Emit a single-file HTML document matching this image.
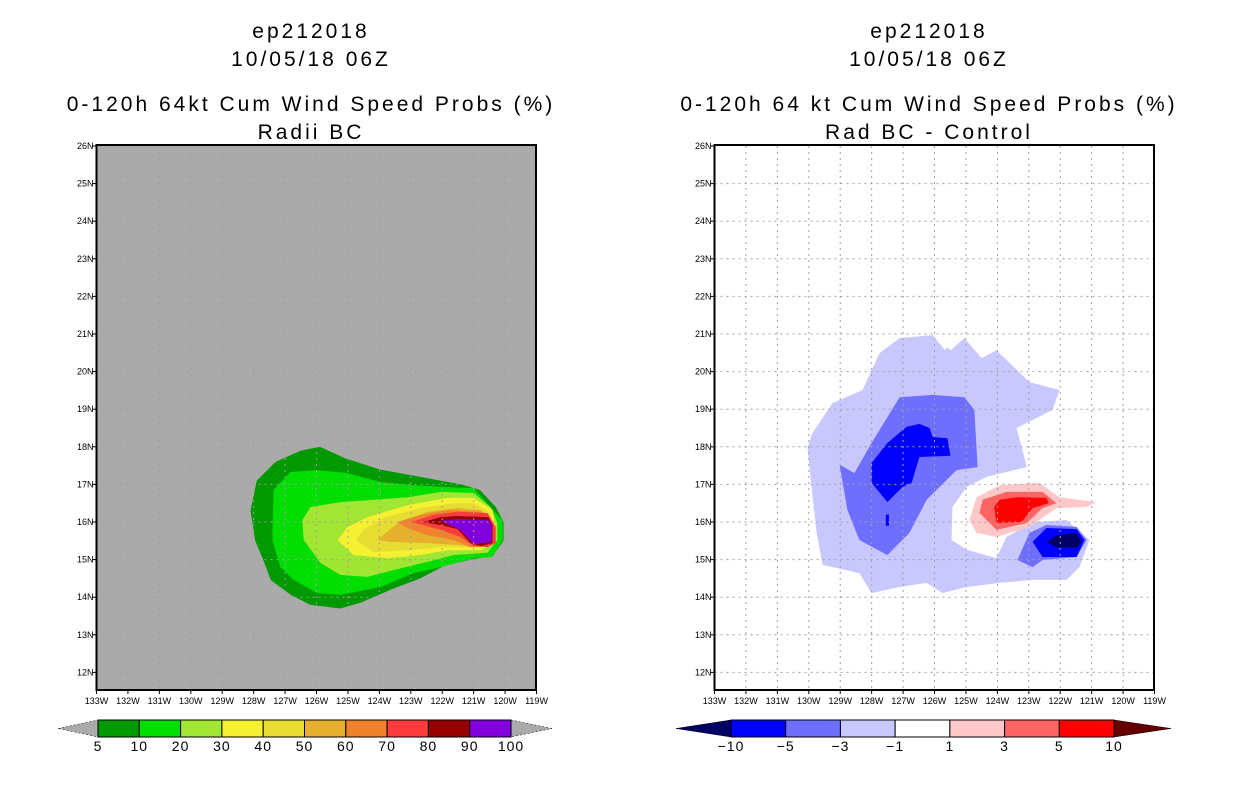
<!DOCTYPE html>
<html><head><meta charset="utf-8">
<style>
html,body{margin:0;padding:0;background:#fff;}
svg text{font-family:"Liberation Sans",sans-serif;fill:#000;}
.ttl{font-size:21px;letter-spacing:3px;}
.tick{font-size:9px;}
.cb{font-size:14px;letter-spacing:1px;}
</style></head>
<body>
<svg id="chart" width="1236" height="800" xmlns="http://www.w3.org/2000/svg">
<rect width="1236" height="800" fill="#fff"/>
<g>
<text class="ttl" x="311" y="38" text-anchor="middle">ep212018</text>
<text class="ttl" x="311" y="66" text-anchor="middle">10/05/18 06Z</text>
<text class="ttl" x="311" y="111" text-anchor="middle">0-120h 64kt Cum Wind Speed Probs (%)</text>
<text class="ttl" x="311" y="139" text-anchor="middle">Radii BC</text>
</g>
<g>
<text class="ttl" x="929" y="38" text-anchor="middle">ep212018</text>
<text class="ttl" x="929" y="66" text-anchor="middle">10/05/18 06Z</text>
<text class="ttl" x="929" y="111" text-anchor="middle">0-120h 64 kt Cum Wind Speed Probs (%)</text>
<text class="ttl" x="929" y="139" text-anchor="middle">Rad BC - Control</text>
</g>
<g id="left"></g>
<g id="right"></g>
<g id="cbars"></g>
</svg>
<script>
const NS='http://www.w3.org/2000/svg';
const lonTicks=[133,132,131,130,129,128,127,126,125,124,123,122,121,120,119];
const latTicks=[26,25,24,23,22,21,20,19,18,17,16,15,14,13,12];
const leftColors=['#009900','#00dd00','#a0e632','#f5f032','#e6dc32','#e6af2d','#f0822d','#fa3c3c','#960000','#8200dc'];
const leftLabels=['5','10','20','30','40','50','60','70','80','90','100'];
const rightColors=['#0000ff','#6e6eff','#c8c8ff','#ffffff','#ffc8c8','#ff6464','#ff0000'];
const rightLabels=['\u221210','\u22125','\u22123','\u22121','1','3','5','10'];
const L5=[[128.1,16.3],[127.9,17.1],[127.3,17.6],[126.5,17.9],[125.9,18.0],[125.1,17.7],[124.0,17.4],[122.7,17.2],[121.4,17.0],[120.8,16.85],[120.3,16.4],[120.05,16.0],[120.05,15.5],[120.4,15.1],[121.1,15.0],[121.9,14.85],[122.7,14.5],[123.65,14.2],[124.6,13.85],[125.25,13.7],[126.2,13.8],[126.8,14.05],[127.45,14.45],[127.7,15.0],[127.95,15.5]];
const L10=[[127.4,15.8],[127.37,16.85],[126.83,17.33],[125.97,17.38],[125.01,17.3],[123.96,17.06],[122.91,16.98],[121.83,16.93],[121.0,16.9],[120.53,16.45],[120.08,16.05],[120.08,15.52],[120.4,15.07],[121.0,15.04],[122.06,14.8],[122.91,14.64],[123.96,14.27],[125.24,14.06],[125.97,14.11],[126.73,14.46],[127.15,14.8],[127.4,15.5]];
const L20=[[126.45,16.05],[126.19,16.4],[125.24,16.53],[124.19,16.59],[123.1,16.66],[122.05,16.8],[121.0,16.77],[120.46,16.4],[120.24,15.97],[120.24,15.52],[120.56,15.18],[121.64,15.12],[122.47,14.94],[123.55,14.72],[124.38,14.54],[125.24,14.59],[125.87,14.91],[126.41,15.52]];
const L30=[[125.33,15.52],[125.01,15.87],[124.38,16.13],[123.1,16.45],[121.83,16.64],[121.0,16.64],[120.4,16.32],[120.3,15.87],[120.37,15.44],[120.78,15.25],[121.83,15.25],[122.69,15.12],[123.74,15.04],[124.82,15.12]];
const L40=[[124.76,15.52],[124.5,15.79],[123.87,16.11],[122.69,16.37],[121.64,16.5],[121.0,16.5],[120.46,16.24],[120.37,15.79],[120.4,15.44],[121.0,15.33],[122.05,15.33],[123.1,15.25],[124.19,15.2]];
const L50=[[124.06,15.52],[123.42,15.97],[122.47,16.27],[121.51,16.37],[120.78,16.32],[120.37,15.97],[120.37,15.44],[121.0,15.36],[122.47,15.44],[123.65,15.47]];
const L60=[[123.42,16.0],[122.69,16.19],[121.83,16.32],[120.78,16.27],[120.37,15.97],[120.3,15.52],[120.56,15.36],[121.1,15.33],[121.64,15.52],[122.47,15.65],[123.1,15.84]];
const L70=[[123.01,16.0],[122.28,16.19],[121.51,16.27],[120.56,16.24],[120.3,15.87],[120.3,15.44],[120.56,15.33],[121.0,15.36],[121.42,15.6],[122.05,15.79],[122.6,15.92]];
const L80=[[122.6,16.0],[122.05,16.13],[121.51,16.16],[120.53,16.13],[120.4,15.92],[120.4,15.44],[120.78,15.36],[121.1,15.44],[121.51,15.81],[122.05,15.92]];
const L90=[[122.05,16.03],[121.51,16.08],[120.53,16.05],[120.43,15.92],[120.43,15.47],[121.0,15.41],[121.42,15.79],[121.83,15.95]];
const leftPolys=[[0,L5],[1,L10],[2,L20],[3,L30],[4,L40],[5,L50],[6,L60],[7,L70],[8,L80],[9,L90]];
const R_neg1=[[130.04,17.99],[129.88,18.37],[129.25,19.16],[128.29,19.51],[127.75,20.49],[127.11,20.89],[126.06,20.97],[125.59,20.49],[125.05,20.89],[124.5,20.36],[124.03,20.57],[122.98,19.72],[122.02,19.51],[122.25,18.98],[123.39,18.5],[123.2,17.91],[123.07,17.46],[124.35,17.2],[124.98,16.93],[125.43,16.4],[125.46,15.52],[124.98,15.26],[124.03,15.04],[123.71,15.6],[122.88,16.0],[121.8,16.05],[121.07,15.52],[121.39,14.8],[121.8,14.46],[122.88,14.46],[123.93,14.38],[124.98,14.27],[125.75,14.11],[126.25,14.38],[127.11,14.27],[128.0,14.11],[128.39,14.64],[129.56,14.86],[129.75,15.71],[129.98,17.46]];
const R_dia=[[125.59,20.65],[125.4,20.49],[125.59,20.33],[125.78,20.49]];
const R_neg3=[[129.02,17.52],[128.55,17.3],[128.0,18.1],[127.11,19.32],[126.06,19.38],[125.05,19.32],[124.73,18.98],[124.63,17.46],[125.3,17.38],[126.25,16.59],[126.8,15.71],[127.5,15.12],[128.39,15.52],[128.77,16.32]];
const R_neg5=[[128.0,17.57],[127.5,18.1],[126.89,18.53],[126.48,18.61],[126.16,18.5],[126.06,18.26],[125.59,18.23],[125.49,17.76],[126.48,17.73],[126.73,17.04],[127.02,16.93],[127.5,16.53],[128.0,17.04]];
const R_stub=[[127.55,16.2],[127.45,16.2],[127.45,15.9],[127.55,15.9]];
const R_neg3b=[[123.36,14.99],[122.98,15.71],[122.44,15.92],[121.48,15.87],[121.16,15.52],[121.48,15.07],[122.56,14.99],[122.88,14.8]];
const R_neg5b=[[122.88,15.47],[122.44,15.84],[121.48,15.81],[121.23,15.52],[121.48,15.07],[122.56,15.07]];
const R_neg10=[[122.44,15.47],[122.12,15.65],[121.48,15.71],[121.32,15.47],[121.48,15.31],[122.12,15.33]];
const R_pos1=[[124.89,16.05],[124.66,16.66],[123.93,16.98],[122.66,17.04],[122.02,16.66],[120.85,16.53],[121.16,16.4],[122.12,16.37],[122.98,15.87],[124.03,15.6],[124.66,15.71]];
const R_pos3=[[124.57,16.24],[124.47,16.59],[123.71,16.8],[122.56,16.8],[122.12,16.5],[122.56,16.37],[123.07,15.97],[124.03,15.79]];
const R_pos5=[[124.1,16.4],[123.93,16.59],[123.39,16.66],[122.44,16.64],[122.37,16.5],[122.88,16.37],[123.23,16.0],[124.03,15.97]];
const rightPolys=[[2,R_neg1],[2,R_dia],[1,R_neg3],[0,R_neg5],[0,R_stub],[1,R_neg3b],[0,R_neg5b],['#000064',R_neg10],[4,R_pos1],[5,R_pos3],[6,R_pos5]];

function mk(tag,attrs,parent){const e=document.createElementNS(NS,tag);for(const k in attrs)e.setAttribute(k,attrs[k]);parent.appendChild(e);return e;}
function panel(g,x0,bg,polys,colors,prefix){
  const W=439.5,H=544,pxLon=31.43,pxLat=37.6,y0=146;
  const X=lon=>x0+(133-lon)*pxLon, Y=lat=>y0+(26-lat)*pxLat;
  const r=mk('rect',{x:x0,y:y0-1,width:W,height:H+1,fill:bg},g);
  
  
  polys.forEach((p,i)=>{
    const fill=typeof p[0]==='number'?colors[p[0]]:p[0];
    const pl=mk('polygon',{points:p[1].map(q=>X(q[0]).toFixed(1)+','+Y(q[1]).toFixed(1)).join(' '),fill:fill},g);
    
    
  });
  lonTicks.forEach(l=>{
    const x=X(l);
    if(l<133&&l>119){const ln=mk('line',{x1:x,y1:y0,x2:x,y2:y0+H,stroke:'#a0a0a0','stroke-width':1,'stroke-dasharray':'2,4'},g);
      }
    mk('line',{x1:x,y1:y0+H,x2:x,y2:y0+H+4,stroke:'#000'},g);
    const t=mk('text',{x:x,y:y0+H+14,'text-anchor':'middle',class:'tick'},g);t.textContent=l+'W';
    
  });
  latTicks.forEach(l=>{
    const y=Y(l);
    if(l<26){const ln=mk('line',{x1:x0,y1:y,x2:x0+W,y2:y,stroke:'#a0a0a0','stroke-width':1,'stroke-dasharray':'2,4'},g);
      }
    mk('line',{x1:x0-4,y1:y,x2:x0,y2:y,stroke:'#000'},g);
    const t=mk('text',{x:x0-3,y:y+3,'text-anchor':'end',class:'tick'},g);t.textContent=l+'N';
    
  });
  const b=mk('rect',{x:x0,y:y0-1,width:W,height:H+1,fill:'none',stroke:'#000','stroke-width':2},g);
  
}
panel(document.getElementById('left'),96.5,'#aaaaaa',leftPolys,leftColors,'left');
panel(document.getElementById('right'),714.5,'#ffffff',rightPolys,rightColors,'right');

function cbar(g,x0,x1,tl,tr,colors,labels,lcol,rcol,prefix){
  const y0=720,y1=737,ym=(y0+y1)/2,w=(x1-x0)/colors.length;
  const a=mk('polygon',{points:`${tl},${ym} ${x0},${y0} ${x0},${y1}`,fill:lcol,stroke:'#000','stroke-width':0.5,'stroke-dasharray':lcol==='#aaaaaa'?'2,2':'none'},g);
  
  const c=mk('polygon',{points:`${tr},${ym} ${x1},${y0} ${x1},${y1}`,fill:rcol,stroke:'#000','stroke-width':0.5,'stroke-dasharray':rcol==='#aaaaaa'?'2,2':'none'},g);
  
  colors.forEach((col,i)=>{
    const r=mk('rect',{x:x0+i*w,y:y0,width:w,height:y1-y0,fill:col,stroke:'#000','stroke-width':1},g);
    
  });
  labels.forEach((lb,i)=>{
    const t=mk('text',{x:x0+i*w,y:y1+14,'text-anchor':'middle',class:'cb'},g);t.textContent=lb;
    
  });
}
const cg=document.getElementById('cbars');
cbar(cg,98,511,58,552,leftColors,leftLabels,'#aaaaaa','#aaaaaa','left');
cbar(cg,731,1114,676,1171,rightColors,rightLabels,'#000064','#640000','right');
</script>
</body></html>
